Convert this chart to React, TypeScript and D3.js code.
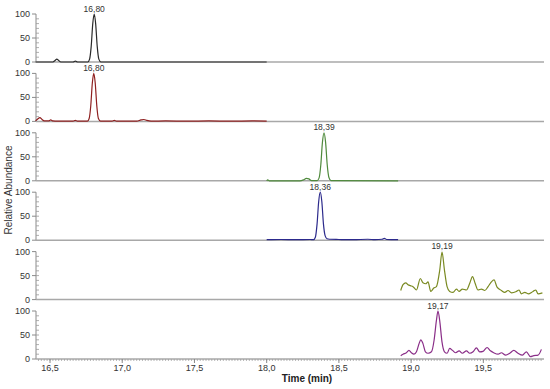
import React from "react";
import * as d3 from "d3";

// time (min), relative abundance (%)
const trace1: [number, number][] = [
  [16.4, 0], [16.52, 0], [16.535, 3], [16.547, 6], [16.56, 3], [16.575, 0],
  [16.66, 0], [16.676, 2], [16.69, 0], [16.762, 0], [16.774, 6], [16.785, 32],
  [16.796, 80], [16.806, 100], [16.816, 80], [16.827, 32], [16.838, 6],
  [16.852, 0], [18.0, 0],
];

const trace2: [number, number][] = [
  [16.4, 1], [16.415, 5], [16.43, 8], [16.445, 4], [16.46, 1], [16.49, 1],
  [16.505, 3], [16.52, 1], [16.55, 0.5], [16.66, 0.5], [16.675, 2], [16.69, 0.5],
  [16.759, 0.5], [16.771, 6], [16.782, 32], [16.793, 80], [16.803, 100],
  [16.813, 80], [16.824, 32], [16.835, 6], [16.85, 0.5], [16.93, 0.5],
  [16.945, 2], [16.96, 0.5], [17.1, 0.5], [17.13, 3], [17.15, 4], [17.17, 2],
  [17.2, 0.5], [17.3, 1], [17.45, 0.5], [17.6, 1], [17.75, 0.5], [17.9, 1],
  [18.0, 0.5],
];

const trace3: [number, number][] = [
  [18.0, 0], [18.008, 2], [18.018, 0], [18.23, 0], [18.255, 2], [18.275, 5],
  [18.292, 4], [18.31, 0.5], [18.35, 0.5], [18.363, 6], [18.375, 34],
  [18.386, 80], [18.397, 100], [18.408, 80], [18.419, 34], [18.431, 7],
  [18.445, 0.5], [18.91, 0],
];

const trace4: [number, number][] = [
  [18.0, 1], [18.1, 1.5], [18.2, 1], [18.3, 1.5], [18.325, 1], [18.337, 6],
  [18.349, 34], [18.36, 80], [18.371, 100], [18.382, 80], [18.393, 34],
  [18.405, 9], [18.418, 3], [18.435, 2], [18.5, 1.5], [18.6, 1], [18.7, 2],
  [18.75, 1], [18.8, 2], [18.815, 4], [18.83, 1.5], [18.91, 1],
];

const trace5: [number, number][] = [
  [18.928, 19], [18.944, 31], [18.963, 35], [18.979, 31], [18.995, 29],
  [19.013, 27], [19.037, 20], [19.064, 44], [19.082, 35], [19.101, 33],
  [19.117, 37], [19.136, 17], [19.157, 24], [19.175, 27], [19.198, 61],
  [19.214, 99], [19.231, 61], [19.249, 27], [19.267, 17], [19.29, 15],
  [19.314, 22], [19.332, 17], [19.355, 22], [19.383, 20], [19.406, 34],
  [19.425, 48], [19.443, 34], [19.463, 20], [19.487, 22], [19.51, 19],
  [19.533, 27], [19.556, 37], [19.574, 41], [19.595, 26], [19.625, 19],
  [19.648, 15], [19.671, 19], [19.695, 14], [19.729, 17], [19.747, 20],
  [19.764, 12], [19.787, 15], [19.81, 12], [19.844, 17], [19.863, 20],
  [19.879, 12], [19.909, 14],
];

const trace6: [number, number][] = [
  [18.928, 7], [18.944, 10], [18.967, 13], [18.985, 18], [19.002, 13],
  [19.02, 10], [19.037, 15], [19.055, 32], [19.067, 40], [19.082, 32],
  [19.099, 15], [19.117, 12], [19.141, 15], [19.159, 39], [19.175, 80],
  [19.186, 100], [19.198, 80], [19.214, 35], [19.231, 15], [19.249, 12],
  [19.267, 22], [19.286, 18], [19.309, 13], [19.332, 17], [19.355, 12],
  [19.383, 17], [19.406, 12], [19.429, 15], [19.452, 23], [19.475, 15],
  [19.498, 16], [19.526, 24], [19.549, 17], [19.572, 13], [19.602, 10],
  [19.625, 13], [19.655, 8], [19.683, 12], [19.711, 18], [19.74, 12],
  [19.771, 8], [19.798, 15], [19.826, 5], [19.849, 7], [19.879, 8],
  [19.902, 20],
];

const traces = [trace1, trace2, trace3, trace4, trace5, trace6];
const peakLabels = ["16,80", "16,80", "18,39", "18,36", "19,19", "19,17"];
const traceColors = ["#2a2a2a", "#8e2020", "#4f8a3c", "#2c2a8c", "#7a8a22", "#8a2e88"];

const xTicks = [16.5, 17.0, 17.5, 18.0, 18.5, 19.0, 19.5];
const xTickLabels = ["16,5", "17,0", "17,5", "18,0", "18,5", "19,0", "19,5"];
const yTicks = [0, 50, 100];

const W = 550;
const H = 389;
const left = 36;
const right = 544;
const firstTop = 14;
const pitch = 59.4;
const panelH = 48;

export default function App() {
  const x = d3.scaleLinear().domain([16.403, 19.92]).range([left, right]);
  const minorX = d3.range(16.42, 19.92, 0.02);
  const minorY = d3.range(10, 100, 10);
  const font = "Liberation Sans, Arial, sans-serif";
  const axisY = firstTop + 5 * pitch + panelH;

  return (
    <div style={{ position: "absolute", left: 0, top: 0 }}>
      <svg width={W} height={H} style={{ display: "block", background: "#fff" }} fontFamily={font}>
        {traces.map((data, i) => {
          const top = firstTop + i * pitch;
          const y = d3.scaleLinear().domain([0, 100]).range([top + panelH, top]);
          const line = d3
            .line<[number, number]>()
            .x((d) => x(d[0]))
            .y((d) => y(d[1]))
            .curve(d3.curveMonotoneX);
          const peak = data.reduce((a, b) => (b[1] > a[1] ? b : a));
          return (
            <g key={i}>
              {/* y axis */}
              <line x1={left} x2={left} y1={y(100)} y2={y(0)} stroke="#8a8a8a" strokeWidth={1} />
              {yTicks.map((t) => (
                <g key={t}>
                  <line x1={left - 4} x2={left} y1={y(t)} y2={y(t)} stroke="#8a8a8a" />
                  <text x={left - 6} y={y(t) + 3} fontSize={9} textAnchor="end" fill="#333">
                    {t}
                  </text>
                </g>
              ))}
              {minorY.map((t) => (
                <line key={t} x1={left} x2={left + 3} y1={y(t)} y2={y(t)} stroke="#9a9a9a" strokeWidth={0.8} />
              ))}
              {/* baseline */}
              <line x1={left} x2={right} y1={y(0)} y2={y(0)} stroke="#a8a8a8" strokeWidth={1.5} />
              <path d={line(data) ?? ""} fill="none" stroke={traceColors[i]} strokeWidth={1.2} />
              <text x={x(peak[0])} y={y(100) - 2.5} fontSize={8.5} textAnchor="middle" fill="#333">
                {peakLabels[i]}
              </text>
            </g>
          );
        })}

        {/* x axis */}
        {minorX.map((t, i) => (
          <line key={i} x1={x(t)} x2={x(t)} y1={axisY} y2={axisY + 2} stroke="#999" strokeWidth={0.7} />
        ))}
        {xTicks.map((t, i) => (
          <g key={t}>
            <line x1={x(t)} x2={x(t)} y1={axisY} y2={axisY + 4} stroke="#888" />
            <text x={x(t)} y={axisY + 12} fontSize={9} textAnchor="middle" fill="#333">
              {xTickLabels[i]}
            </text>
          </g>
        ))}
        <text x={307} y={382} fontSize={10} textAnchor="middle" fill="#222" fontWeight={600}>
          Time (min)
        </text>
        <text transform="translate(12,190) rotate(-90)" fontSize={10} textAnchor="middle" fill="#333">
          Relative Abundance
        </text>
      </svg>
    </div>
  );
}
